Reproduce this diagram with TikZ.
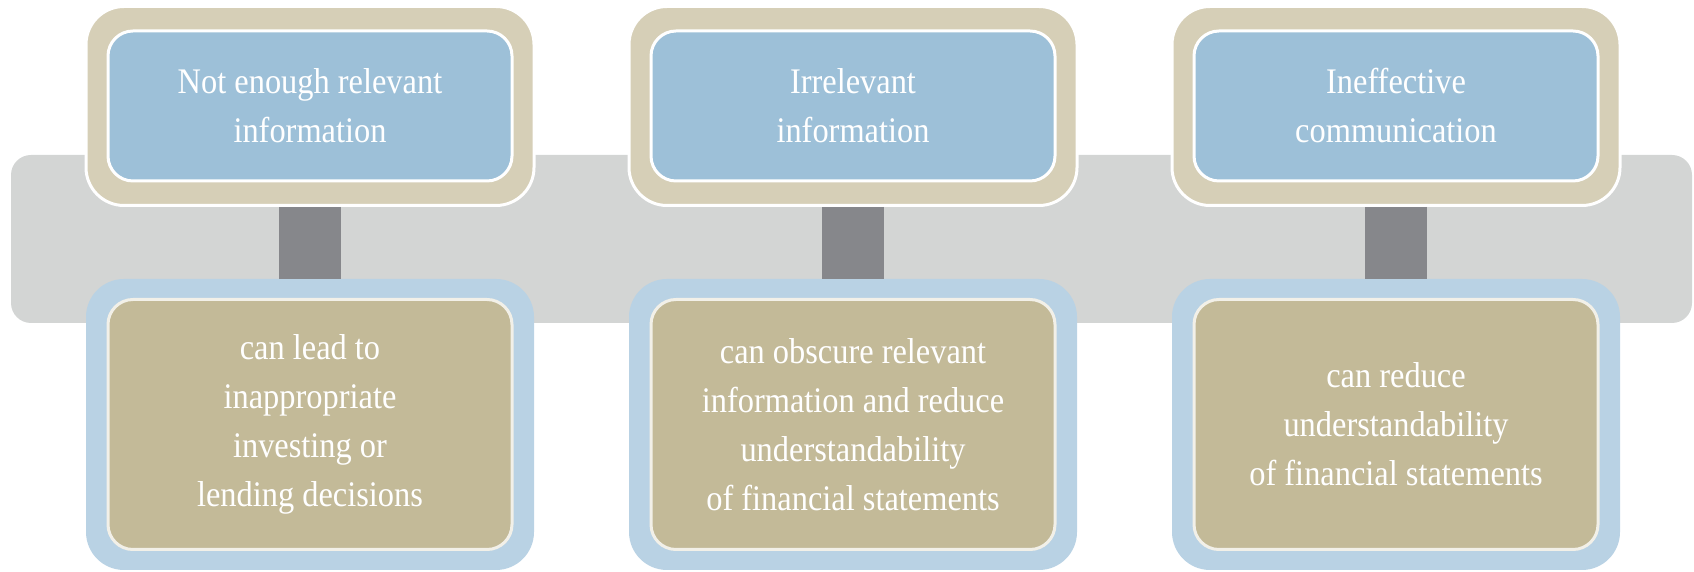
\documentclass[tikz,border=0pt]{standalone}
\usepackage{fontspec}
\newfontfamily\boxfont[FakeStretch=0.9]{Liberation Serif}
\definecolor{bandgray}{HTML}{D3D5D4}
\definecolor{stemgray}{HTML}{86878B}
\definecolor{framebeige}{HTML}{D6CFB7}
\definecolor{headblue}{HTML}{9DC0D8}
\definecolor{frameblue}{HTML}{B9D2E4}
\definecolor{bodytan}{HTML}{C3BA98}
\definecolor{cream}{HTML}{F2F0E8}

\begin{document}
\begin{tikzpicture}[x=1pt,y=1pt]
\tikzset{
  band/.style={fill=bandgray,rounded corners=20pt,minimum width=1681pt,minimum height=168pt,inner sep=0pt},
  stem/.style={draw=stemgray,line width=62pt},
  headframe/.style={fill=framebeige,draw=white,line width=3pt,rounded corners=38pt,minimum width=448pt,minimum height=199pt,inner sep=0pt},
  headbox/.style={fill=headblue,draw=white,line width=3pt,rounded corners=25pt,minimum width=404pt,minimum height=150pt,inner sep=0pt,
    text=white,align=center,font=\boxfont\fontsize{36}{49}\selectfont},
  bodyframe/.style={fill=frameblue,rounded corners=38pt,minimum width=448pt,minimum height=291pt,inner sep=0pt},
  bodybox/.style={fill=bodytan,draw=cream,line width=3pt,rounded corners=25pt,minimum width=404pt,minimum height=250pt,inner sep=0pt,
    text=white,align=center,font=\boxfont\fontsize{36}{49}\selectfont}
}
\useasboundingbox (0,0) rectangle (1694,572);
\node[band] (n_band) at (851.5,333) {};
\node[headframe] (n_f0) at (310,466) {};
\node[headframe] (n_f1) at (853,466) {};
\node[headframe] (n_f2) at (1396,466) {};
\node[bodyframe] (n_g0) at (310,147.5) {};
\node[bodyframe] (n_g1) at (853,147.5) {};
\node[bodyframe] (n_g2) at (1396,147.5) {};
\draw[stem] (n_f0.south) -- (n_g0.north);
\draw[stem] (n_f1.south) -- (n_g1.north);
\draw[stem] (n_f2.south) -- (n_g2.north);
\node[headbox] (n_h0) at (310,466) {Not enough relevant\\information};
\node[headbox] (n_h1) at (853,466) {Irrelevant\\information};
\node[headbox] (n_h2) at (1396,466) {Ineffective\\communication};
\node[bodybox] (n_b0) at (310,147.5) {can lead to\\inappropriate\\investing or\\lending decisions};
\node[bodybox] (n_b1) at (853,147.5) {can obscure relevant\\information and reduce\\understandability\\of financial statements};
\node[bodybox] (n_b2) at (1396,147.5) {can reduce\\understandability\\of financial statements};
\end{tikzpicture}
\end{document}
